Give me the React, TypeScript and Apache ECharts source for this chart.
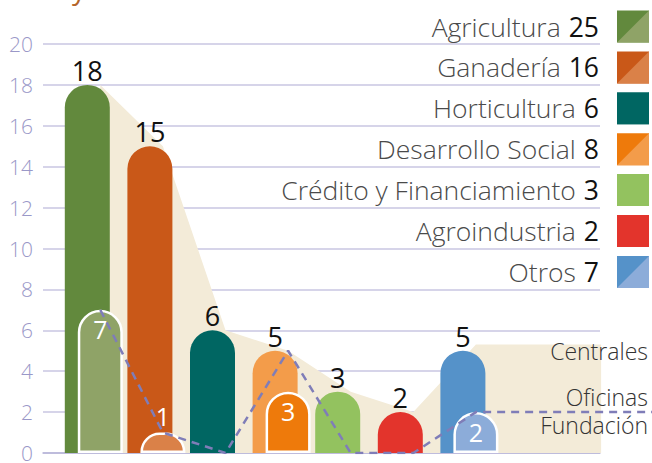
import React, { useEffect, useRef } from 'react';
import * as echarts from 'echarts';

const categories = ['Agricultura', 'Ganadería', 'Horticultura', 'Desarrollo Social', 'Crédito y Financiamiento', 'Agroindustria', 'Otros'];
const totals = [25, 16, 6, 8, 3, 2, 7];
const centrales = [18, 15, 6, 5, 3, 2, 5];
const oficinas: (number | null)[] = [7, 1, null, 3, null, null, 2];
const fundacion = [7, 1, 0, 5, 0, 0, 2, 2, 2, 2];
const centralesArea: (number | null)[] = [18, 15, 6, 5, 3, 2, 5.3, 5.3, 5.3, null];
const mainColors = ['#62893d', '#c95818', '#006662', '#f39c4a', '#93c25f', '#e3342c', '#5592c9'];
const oficinaColors = ['#8fa367', '#da8148', '', '#ee7a0b', '', '', '#8cacd9'];
const swatchDark = ['#62893d', '#c95818', '#006662', '#ee7a0b', '#93c25f', '#e3342c', '#5592c9'];
const swatchLight = ['#8fa367', '#da8148', '#006662', '#f39c4a', '#93c25f', '#e3342c', '#8cacd9'];
const seriesNames = ['Centrales', 'Oficinas', 'Fundación'];
const yTicks = { min: 0, max: 20, interval: 2 };

const xCats = [...categories, '', '', ''];
const FONT = '"Open Sans", "Noto Sans", sans-serif';

export default function App() {
  const ref = useRef<HTMLDivElement>(null);
  useEffect(() => {
    const chart = echarts.init(ref.current!, null, { renderer: 'svg' });
    const legendGraphics: any[] = [];
    categories.forEach((c, i) => {
      const cy = 26.5 + i * 40.9;
      legendGraphics.push({
        type: 'text',
        x: 599,
        y: cy,
        style: {
          text: `{n|${c}}{v|${totals[i]}}`,
          align: 'right',
          verticalAlign: 'middle',
          rich: {
            n: { fontSize: 26.5, fontFamily: FONT, fontWeight: 300, fill: '#4a4a4a' },
            v: { fontSize: 26.5, fontFamily: FONT, fontWeight: 400, fill: '#111', padding: [0, 0, 0, 8] },
          },
        },
      });
      legendGraphics.push({
        type: 'rect',
        shape: { x: 617, y: cy - 16, width: 32, height: 32 },
        style: { fill: swatchDark[i] },
      });
      legendGraphics.push({
        type: 'polygon',
        shape: { points: [[649, cy - 16], [649, cy + 16], [617, cy + 16]] },
        style: { fill: swatchLight[i] },
      });
    });
    const nameY = [351, 397, 425];
    seriesNames.forEach((n, i) => {
      legendGraphics.push({
        type: 'text',
        x: 648,
        y: nameY[i],
        z: 20,
        style: {
          text: n,
          align: 'right',
          verticalAlign: 'middle',
          fontSize: 23,
          fontFamily: FONT,
          fontWeight: 300,
          fill: '#333',
        },
      });
    });
    legendGraphics.push({
      type: 'text',
      x: 72,
      y: -26,
      style: { text: 'y', fontSize: 28, fontFamily: FONT, fill: '#b4662a' },
    });

    const yHidden = (g: number) => ({ gridIndex: g, type: 'value', ...yTicks, show: false, splitLine: { show: false } });
    const gridBase = { top: 44, bottom: 10, outerBoundsMode: 'none', containLabel: false };

    chart.setOption({
      animation: false,
      backgroundColor: '#ffffff',
      grid: [
        { ...gridBase, left: 43, right: 52 },
        { ...gridBase, left: 56, width: 626 },
        { ...gridBase, left: 69, width: 626 },
      ],
      xAxis: [
        {
          gridIndex: 0,
          type: 'category',
          data: [''],
          axisLine: { show: true, lineStyle: { color: '#b7b4d8', width: 1.5 } },
          axisTick: { show: false },
          axisLabel: { show: false },
        },
        { gridIndex: 1, type: 'category', data: xCats, show: false },
        { gridIndex: 2, type: 'category', data: xCats, show: false },
      ],
      yAxis: [
        {
          gridIndex: 0,
          type: 'value',
          ...yTicks,
          axisLine: { show: false },
          axisTick: { show: false },
          axisLabel: { color: '#9a98c8', fontSize: 21, fontFamily: FONT, fontWeight: 300, margin: 10 },
          splitLine: { lineStyle: { color: '#c9c6e2', width: 1.5 } },
        },
        yHidden(1),
        yHidden(2),
      ],
      series: [
        {
          name: 'Centrales área',
          type: 'line',
          xAxisIndex: 2,
          yAxisIndex: 2,
          data: centralesArea,
          symbol: 'none',
          lineStyle: { width: 0 },
          areaStyle: { color: '#f3ebd8', opacity: 1 },
          z: 1,
        },
        {
          name: 'Centrales',
          type: 'bar',
          xAxisIndex: 1,
          yAxisIndex: 1,
          barWidth: 45,
          data: centrales.map((v, i) => ({ value: v, itemStyle: { color: mainColors[i] } })),
          itemStyle: { borderRadius: [22.5, 22.5, 0, 0] },
          label: { show: true, position: 'top', distance: 1, fontSize: 27, fontFamily: FONT, color: '#111' },
          z: 3,
        },
        {
          name: 'Oficinas',
          type: 'bar',
          xAxisIndex: 2,
          yAxisIndex: 2,
          barWidth: 45,
          data: oficinas.map((v, i) =>
            v == null
              ? '-'
              : {
                  value: v,
                  itemStyle: { color: oficinaColors[i] },
                  label: v < 2 ? { position: 'top', distance: 4 } : {},
                }
          ),
          itemStyle: { borderRadius: [22.5, 22.5, 0, 0], borderColor: '#ffffff', borderWidth: 2.5 },
          label: { show: true, position: 'insideTop', distance: 7, fontSize: 25, fontFamily: FONT, color: '#ffffff' },
          z: 4,
        },
        {
          name: 'Fundación',
          type: 'line',
          xAxisIndex: 2,
          yAxisIndex: 2,
          data: fundacion,
          symbol: 'none',
          lineStyle: { color: '#7f7db8', width: 2.5, type: [8, 6] },
          z: 5,
        },
      ],
      graphic: legendGraphics,
    });
    return () => chart.dispose();
  }, []);
  return <div ref={ref} style={{ position: 'absolute', left: 0, top: 0, width: 652, height: 463 }} />;
}
